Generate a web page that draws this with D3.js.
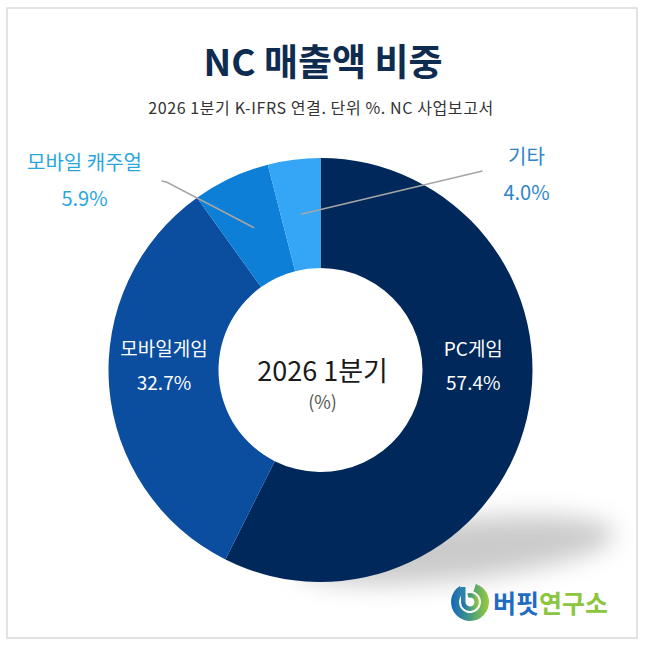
<!DOCTYPE html>
<html>
<head>
<meta charset="utf-8">
<script src="https://cdn.jsdelivr.net/npm/d3@7"></script>
<style>
  body { margin: 0; background: #fff; }
  text { font-family: "Noto Sans CJK KR", "Noto Sans", sans-serif; }
</style>
</head>
<body>
<script>
// data
var categories = ["PC게임", "모바일게임", "모바일 캐주얼", "기타"];
var shares = [57.4, 32.7, 5.9, 4.0];
var colors = ["#00285a", "#0b4d9f", "#0d7fd7", "#35a5f5"];
var outside = [false, false, true, true];

var W = 650, H = 653;
var cx = 320.5, cy = 370, rOut = 212, rIn = 102;

var svg = d3.select("body").append("svg")
    .attr("width", W)
    .attr("height", H);

var defs = svg.append("defs");
defs.append("filter").attr("id", "blur")
    .attr("x", "-50%").attr("y", "-50%").attr("width", "200%").attr("height", "200%")
  .append("feGaussianBlur").attr("stdDeviation", 12);

var grad = defs.append("linearGradient").attr("id", "logoGrad")
    .attr("x1", "0%").attr("x2", "100%").attr("y1", "0%").attr("y2", "0%");
grad.append("stop").attr("offset", "0%").attr("stop-color", "#1565c0");
grad.append("stop").attr("offset", "55%").attr("stop-color", "#4aa07a");
grad.append("stop").attr("offset", "100%").attr("stop-color", "#9ccc3a");

// frame
svg.append("rect")
    .attr("x", 7).attr("y", 8)
    .attr("width", 630).attr("height", 630)
    .attr("fill", "#fff")
    .attr("stroke", "#dadada")
    .attr("stroke-width", 1.5);

// title
svg.append("text")
    .attr("x", 323).attr("y", 76)
    .attr("text-anchor", "middle")
    .attr("font-size", 37)
    .attr("font-weight", 700)
    .attr("fill", "#0e2b50")
    .text("NC 매출액 비중");

svg.append("text")
    .attr("x", 321).attr("y", 114)
    .attr("text-anchor", "middle")
    .attr("font-size", 16)
    .attr("letter-spacing", 0.6)
    .attr("fill", "#333")
    .text("2026 1분기 K-IFRS 연결. 단위 %. NC 사업보고서");

// shadow
svg.append("ellipse")
    .attr("cx", cx + 135).attr("cy", cy + 180)
    .attr("rx", 160).attr("ry", 30)
    .attr("transform", "rotate(-6," + (cx + 135) + "," + (cy + 180) + ")")
    .attr("fill", "#a8a8a8")
    .attr("opacity", 0.6)
    .attr("filter", "url(#blur)");

var pie = d3.pie().sort(null).value(function (d) { return d; });
var arcs = pie(shares);

var arc = d3.arc().innerRadius(rIn).outerRadius(rOut);
var mid = d3.arc().innerRadius((rIn + rOut) / 2).outerRadius((rIn + rOut) / 2);

var g = svg.append("g").attr("transform", "translate(" + cx + "," + cy + ")");

g.selectAll("path.slice")
    .data(arcs)
    .enter()
    .append("path")
    .attr("class", "slice")
    .attr("d", arc)
    .attr("fill", function (d, i) { return colors[i]; });

// inside labels
var inner = g.selectAll("g.inlab")
    .data(arcs.filter(function (d, i) { return !outside[i]; }))
    .enter()
    .append("g")
    .attr("class", "inlab")
    .attr("transform", function (d) {
        var c = mid.centroid(d);
        return "translate(" + c[0] + ",0)";
    });
inner.append("text")
    .attr("y", -14)
    .attr("text-anchor", "middle")
    .attr("font-size", 19)
    .attr("fill", "#fff")
    .text(function (d) { return categories[d.index]; });
inner.append("text")
    .attr("y", 20)
    .attr("text-anchor", "middle")
    .attr("font-size", 19)
    .attr("fill", "#fff")
    .text(function (d) { return shares[d.index].toFixed(1) + "%"; });

// outside labels with leader lines
var outPos = { 2: { x: -236, y: -200, lx: -159, ly: -189, color: "#29a6df" },
               3: { x: 206, y: -206, lx: 162, ly: -199, color: "#2e86c9" } };

arcs.forEach(function (d, i) {
    if (!outside[i]) return;
    var p = outPos[i];
    var c = mid.centroid(d);
    var pts = i === 2
        ? [[p.lx, p.ly], [p.lx + 5, p.ly + 1], c]
        : [[p.lx, p.ly], c];
    g.append("path")
        .attr("d", d3.line()(pts))
        .attr("fill", "none")
        .attr("stroke", "#a6a6a6")
        .attr("stroke-width", 1.5);
    g.append("text")
        .attr("x", p.x).attr("y", p.y)
        .attr("text-anchor", "middle")
        .attr("font-size", 20)
        .attr("fill", p.color)
        .text(categories[i]);
    g.append("text")
        .attr("x", p.x).attr("y", p.y + 36)
        .attr("text-anchor", "middle")
        .attr("font-size", 20)
        .attr("fill", p.color)
        .text(shares[i].toFixed(1) + "%");
});

// center text
g.append("text")
    .attr("x", 2).attr("y", 11)
    .attr("text-anchor", "middle")
    .attr("font-family", "Roboto, 'Noto Sans CJK KR', sans-serif")
    .attr("font-size", 27)
    .attr("fill", "#1a1a1a")
    .text("2026 1분기");
g.append("text")
    .attr("x", 2).attr("y", 39)
    .attr("text-anchor", "middle")
    .attr("font-family", "Roboto, 'Noto Sans CJK KR', sans-serif")
    .attr("font-size", 18)
    .attr("fill", "#555")
    .text("(%)");

// logo
var logo = svg.append("g").attr("transform", "translate(470,602)");
logo.append("path")
    .attr("d", d3.arc().innerRadius(11).outerRadius(19)
        .startAngle(0.1 * Math.PI).endAngle(1.82 * Math.PI)())
    .attr("fill", "url(#logoGrad)");
logo.append("path")
    .attr("d", d3.arc().innerRadius(4.5).outerRadius(9)
        .startAngle(-0.1 * Math.PI).endAngle(1.5 * Math.PI)())
    .attr("fill", "url(#logoGrad)");
logo.append("rect")
    .attr("x", -9).attr("y", -15).attr("width", 4.5).attr("height", 15)
    .attr("fill", "#2f7fb0");

var lt = svg.append("text")
    .attr("x", 493).attr("y", 613)
    .attr("font-size", 25)
    .attr("font-weight", 700);
lt.append("tspan").attr("fill", "#1f6cc0").text("버핏");
lt.append("tspan").attr("fill", "#8cc63f").text("연구소");
</script>
</body>
</html>
